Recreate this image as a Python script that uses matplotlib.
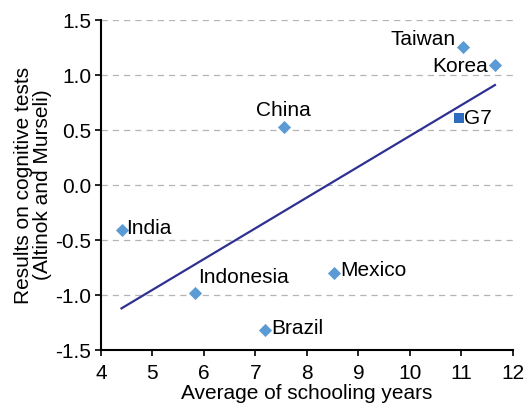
import matplotlib
matplotlib.use("Agg")
import matplotlib.pyplot as plt

plt.rcParams['font.family'] = ['Liberation Sans', 'DejaVu Sans']

# values
countries = ['Taiwan', 'Korea', 'China', 'India', 'Indonesia', 'Mexico', 'Brazil']
schooling = [11.03, 11.65, 7.55, 4.41, 5.83, 8.52, 7.18]
scores = [1.26, 1.09, 0.53, -0.41, -0.98, -0.80, -1.32]

g7_x = [10.95]
g7_y = [0.61]

trend_x = [4.4, 11.65]
trend_y = [-1.12, 0.91]

xticks = [4, 5, 6, 7, 8, 9, 10, 11, 12]
yticks = [-1.5, -1.0, -0.5, 0.0, 0.5, 1.0, 1.5]

# label placement (offset in points, alignment)
label_pos = {
    'Taiwan': ((-5, 5), 'right', 'center'),
    'Korea': ((-5, -1), 'right', 'center'),
    'China': ((0, 5), 'center', 'bottom'),
    'India': ((3, 1), 'left', 'center'),
    'Indonesia': ((2, 4), 'left', 'bottom'),
    'Mexico': ((5, 2), 'left', 'center'),
    'Brazil': ((5, 1), 'left', 'center'),
}

fs = 15

fig = plt.figure(figsize=(5.31, 4.11), dpi=100)
ax = fig.add_axes([0.190, 0.148, 0.776, 0.803])

for yt in yticks:
    ax.axhline(yt, color='#b4b4b4', lw=0.9, ls=(0, (5, 4)), zorder=0)

ax.plot(trend_x, trend_y, color='#2e3192', lw=1.6, zorder=2)
ax.scatter(schooling, scores, marker='D', s=45, color='#5b9bd5', zorder=3, linewidths=0)
ax.scatter(g7_x, g7_y, marker='s', s=60, color='#2e6dbe', zorder=3, linewidths=0)

for name, x, y in zip(countries, schooling, scores):
    off, ha, va = label_pos[name]
    ax.annotate(name, (x, y), xytext=off, textcoords='offset points',
                ha=ha, va=va, fontsize=fs)
ax.annotate('G7', (g7_x[0], g7_y[0]), xytext=(4, 0), textcoords='offset points',
            ha='left', va='center', fontsize=fs)

ax.set_xlim(4, 12)
ax.set_ylim(-1.5, 1.5)
ax.set_xticks(xticks)
ax.set_yticks(yticks)
ax.set_yticklabels([f'{v:.1f}' for v in yticks])
ax.tick_params(labelsize=fs, direction='out', length=4, width=1.2, pad=3)
ax.tick_params(axis='x', pad=6)

for side in ['top', 'right']:
    ax.spines[side].set_visible(False)
for side in ['left', 'bottom']:
    ax.spines[side].set_linewidth(1.5)

ax.set_xlabel('Average of schooling years', fontsize=fs, labelpad=1)
ax.set_ylabel('Results on cognitive tests\n(Altinok and Murseli)', fontsize=fs,
              labelpad=2, linespacing=1.0)

fig.savefig('out.png', dpi=100)
